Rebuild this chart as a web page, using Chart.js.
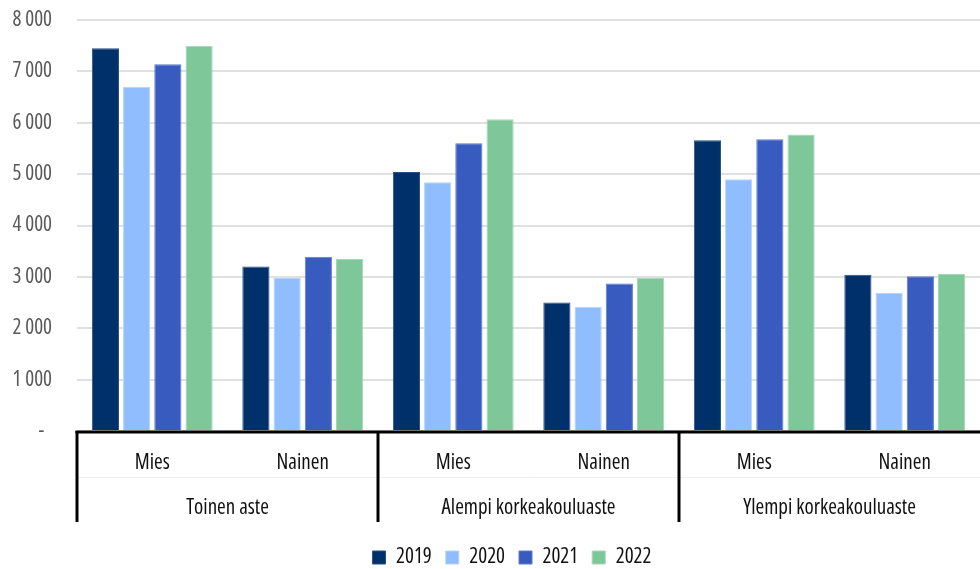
<!DOCTYPE html>
<html>
<head>
<meta charset="utf-8">
<script src="https://cdn.jsdelivr.net/npm/chart.js@4/dist/chart.umd.min.js"></script>
<style>
  html, body { margin: 0; padding: 0; background: #fff; }
  #wrap { width: 980px; height: 569px; position: relative; }
</style>
</head>
<body>
<div id="wrap"><canvas id="c" width="980" height="569"></canvas></div>
<script>
const categories = ['Mies', 'Nainen', 'Mies', 'Nainen', 'Mies', 'Nainen'];
const groups = ['Toinen aste', 'Alempi korkeakouluaste', 'Ylempi korkeakouluaste'];
const years = ['2019', '2020', '2021', '2022'];
const v2019 = [7450, 3200, 5040, 2500, 5660, 3040];
const v2020 = [6700, 2980, 4840, 2420, 4900, 2690];
const v2021 = [7140, 3390, 5600, 2870, 5680, 3010];
const v2022 = [7500, 3350, 6070, 2985, 5770, 3055];
const yTicks = [0, 1000, 2000, 3000, 4000, 5000, 6000, 7000, 8000];

const colors = ['#003069', '#8fbdfd', '#385bbf', '#7dc799'];
const borders = ['#2a4f80', '#b5d3fe', '#5c7ad0', '#a3d8b6'];
const FAMILY = "'Open Sans', sans-serif";
const FSIZE = 21;
const fontOpt = { family: FAMILY, size: FSIZE, weight: 'condensed' };

const seriesValues = [v2019, v2020, v2021, v2022];

function fmt(v) {
  if (v === 0) return '-  ';
  return String(v).replace(/\B(?=(\d{3})+(?!\d))/g, ' ');
}

const groupAxisPlugin = {
  id: 'groupAxis',
  beforeLayout(chart) {
    const lg = chart.legend;
    if (lg && !lg._patched) {
      const orig = lg.fit.bind(lg);
      lg.fit = function () { orig(); this.height = 36; };
      lg._patched = true;
    }
  },
  afterLayout(chart) {
    const lg = chart.legend;
    if (lg) { lg.left += 22; lg.right += 22; }
  },
  afterDatasetsDraw(chart) {
    const ctx = chart.ctx;
    const x = chart.scales.x;
    const bottom = chart.chartArea.bottom;
    const half = (x.getPixelForValue(1) - x.getPixelForValue(0)) / 2;
    ctx.save();
    // faint divider between label rows
    ctx.strokeStyle = '#f0f0f0';
    ctx.lineWidth = 1;
    ctx.beginPath();
    ctx.moveTo(x.left, bottom + 46.5);
    ctx.lineTo(x.right, bottom + 46.5);
    ctx.stroke();
    // axis line
    ctx.strokeStyle = '#000';
    ctx.lineWidth = 3;
    ctx.beginPath();
    ctx.moveTo(x.left - 1.5, bottom + 1);
    ctx.lineTo(x.right, bottom + 1);
    ctx.stroke();
    // group separators
    for (let g = 0; g < groups.length; g++) {
      const px = x.getPixelForValue(g * 2) - half;
      ctx.beginPath();
      ctx.moveTo(px, bottom);
      ctx.lineTo(px, bottom + 91);
      ctx.stroke();
    }
    // group labels
    ctx.fillStyle = '#111';
    ctx.font = 'condensed ' + FSIZE + 'px ' + FAMILY;
    ctx.textAlign = 'center';
    ctx.textBaseline = 'middle';
    for (let g = 0; g < groups.length; g++) {
      const cx = (x.getPixelForValue(g * 2) + x.getPixelForValue(g * 2 + 1)) / 2;
      ctx.fillText(groups[g], cx, bottom + 77);
    }
    ctx.restore();
  }
};

new Chart(document.getElementById('c'), {
  type: 'bar',
  data: {
    labels: categories,
    datasets: years.map((y, i) => ({
      label: y,
      data: seriesValues[i],
      backgroundColor: colors[i],
      borderColor: borders[i],
      borderWidth: 1,
      categoryPercentage: 0.83,
      barPercentage: 0.87
    }))
  },
  options: {
    responsive: false,
    animation: false,
    devicePixelRatio: 1,
    layout: { padding: { top: 20, right: 0, left: 0, bottom: 0 } },
    plugins: {
      legend: {
        position: 'bottom',
        labels: {
          boxWidth: 13,
          boxHeight: 13,
          padding: 14,
          color: '#111',
          font: fontOpt
        }
      },
      tooltip: { enabled: false }
    },
    scales: {
      x: {
        grid: { display: false, drawTicks: false },
        border: { display: false },
        ticks: {
          color: '#111',
          padding: 19,
          font: fontOpt
        },
        afterFit(scale) { scale.height = 102; }
      },
      y: {
        min: 0,
        max: 8000,
        afterBuildTicks(scale) { scale.ticks = yTicks.map(v => ({ value: v })); },
        grid: { color: '#e0e0e0', lineWidth: 2, drawTicks: true, tickLength: 25, tickColor: 'rgba(0,0,0,0)' },
        border: { display: false },
        ticks: {
          color: '#595959',
          padding: 0,
          font: fontOpt,
          callback: (v) => fmt(v)
        },
        afterFit(scale) { scale.width = 77; }
      }
    }
  },
  plugins: [groupAxisPlugin]
});
</script>
</body>
</html>
